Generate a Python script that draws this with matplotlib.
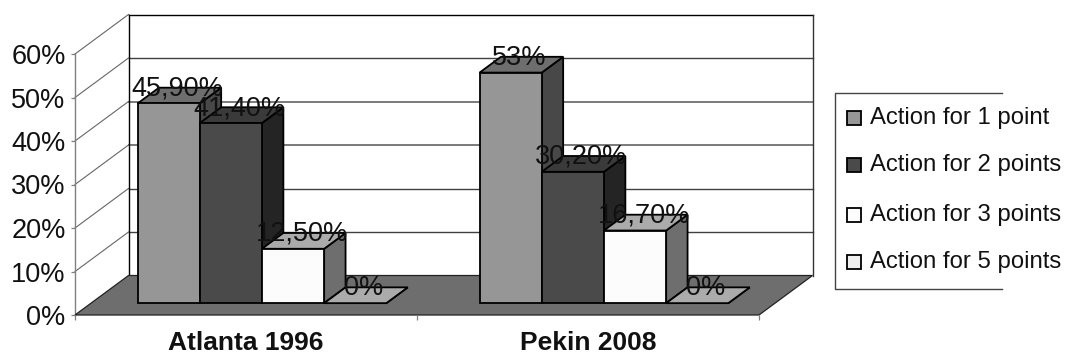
import matplotlib
matplotlib.use("Agg")
import matplotlib.pyplot as plt
from matplotlib.patches import Polygon, Rectangle
from matplotlib.lines import Line2D

plt.rcParams['font.family'] = ['Liberation Sans', 'DejaVu Sans']

categories = ["Atlanta 1996", "Pekin 2008"]
series_names = ["Action for 1 point", "Action for 2 points", "Action for 3 points", "Action for 5 points"]
series_1 = [45.9, 53.0]
series_2 = [41.4, 30.2]
series_3 = [12.5, 16.7]
series_4 = [0.0, 0.0]
labels_1 = ["45,90%", "53%"]
labels_2 = ["41,40%", "30,20%"]
labels_3 = ["12,50%", "16,70%"]
labels_4 = ["0%", "0%"]
y_ticks = [0, 10, 20, 30, 40, 50, 60]

front_cols = ["#969696", "#4a4a4a", "#fcfcfc", "#f0f0f0"]
top_cols = ["#6e6e6e", "#3a3a3a", "#ababab", "#ababab"]
side_cols = ["#484848", "#242424", "#6e6e6e", "#6e6e6e"]

W, H = 1065, 355
fig = plt.figure(figsize=(W / 100, H / 100), dpi=100, facecolor="white")
ax = fig.add_axes([75 / W, (H - 315) / H, (759 - 75) / W, (315 - 54) / H])
ax.set_xlim(0, 2)
ax.set_ylim(0, 60)
ax.patch.set_visible(False)

DX = 53.5 / 342      # depth shear in category units
DY = 39.5 / 4.35     # depth shear in percent units
def P(x, y, d=0.0):
    return (x + d * DX, y + d * DY)

# floor
ax.add_patch(Polygon([P(0, 0, 0), P(2, 0, 0), P(2, 0, 1), P(0, 0, 1)], closed=True,
                     fc="#6e6e6e", ec="#222222", lw=0.9, zorder=1, clip_on=False))
# wall gridlines
for v in y_ticks[1:]:
    col = "#000000" if v == 60 else ("#707070" if v in (30, 40) else "#404040")
    lw = 1.0 if v == 60 else (1.3 if v in (30, 40) else 1.0)
    ax.plot(*zip(P(0, v, 1), P(2, v, 1)), color=col, lw=lw, zorder=0.5, clip_on=False)
    ax.plot(*zip(P(0, v, 0), P(0, v, 1)), color="#666666", lw=0.8, zorder=0.5, clip_on=False)
ax.plot(*zip(P(0, 0, 1), P(0, 60, 1)), color="#000000", lw=1.0, zorder=0.5, clip_on=False)
ax.plot(*zip(P(2, 0, 1), P(2, 60, 1)), color="#333333", lw=1.0, zorder=0.5, clip_on=False)

# bars
BW = 62.2 / 342
OFF = 0.136
D0, D1 = 0.3, 0.7
all_series = [series_1, series_2, series_3, series_4]
all_labels = [labels_1, labels_2, labels_3, labels_4]
z = 2
for c in range(len(categories)):
    for s, vals in enumerate(all_series):
        v = vals[c]
        x0 = c + OFF + s * BW
        x1 = x0 + BW
        ek = dict(ec="#000000", lw=1.3, joinstyle="miter", clip_on=False, zorder=z)
        ax.add_patch(Polygon([P(x1, 0, D0), P(x1, 0, D1), P(x1, v, D1), P(x1, v, D0)], closed=True, fc=side_cols[s], **ek))
        ax.add_patch(Polygon([P(x0, v, D0), P(x1, v, D0), P(x1, v, D1), P(x0, v, D1)], closed=True, fc=top_cols[s], **ek))
        if v > 0:
            ax.add_patch(Rectangle(P(x0, 0, D0), BW, v, fc=front_cols[s], **ek))
        z += 1
DLAB = 0.46
for c in range(len(categories)):
    for s, vals in enumerate(all_series):
        x = c + OFF + (s + 0.5) * BW
        lx = P(x, 0, DLAB)[0]
        ly = P(x, vals[c], D1)[1] - 0.2
        ax.text(lx, ly, all_labels[s][c], ha="center", va="center",
                fontsize=19.5, color="#111111", zorder=50, clip_on=False)

# axes
for sp in ("top", "right", "bottom"):
    ax.spines[sp].set_visible(False)
ax.spines["left"].set_color("#808080")
ax.spines["left"].set_linewidth(1.0)
ax.spines["left"].set_zorder(0.8)
ax.set_yticks(y_ticks)
ax.set_yticklabels([f"{v}%" for v in y_ticks], fontsize=19.5, color="#111111")
ax.tick_params(axis="y", length=3.2, width=0.9, color="#808080", pad=3.5)
ax.set_xticks([0, 1, 2])
ax.set_xticklabels(["", "", ""])
ax.set_xticks([0.5, 1.5], minor=True)
ax.set_xticklabels(categories, minor=True, fontsize=19, fontweight="bold", color="#111111")
ax.tick_params(axis="x", which="major", length=3.5, width=0.9, color="#808080")
ax.tick_params(axis="x", which="minor", length=0, pad=11.5)

# legend
def fx(x): return x / W
def fy(y): return (H - y) / H
for xs, ys in (([1002, 835, 835, 1002], [92.5, 92.5, 289, 289]),):
    fig.add_artist(Line2D([fx(a) for a in xs], [fy(b) for b in ys], color="#444444", lw=1.0))
rows = [118, 165, 215, 262]
for name, col, y in zip(series_names, front_cols, rows):
    fig.add_artist(Rectangle((fx(847), fy(y + 7)), 14 / W, 14 / H, transform=fig.transFigure,
                             fc=col, ec="#000000", lw=1.3))
    fig.text(fx(870), fy(y - 2.5), name, fontsize=17.2, color="#111111", ha="left", va="center_baseline")

fig.savefig("out.png", dpi=100)
